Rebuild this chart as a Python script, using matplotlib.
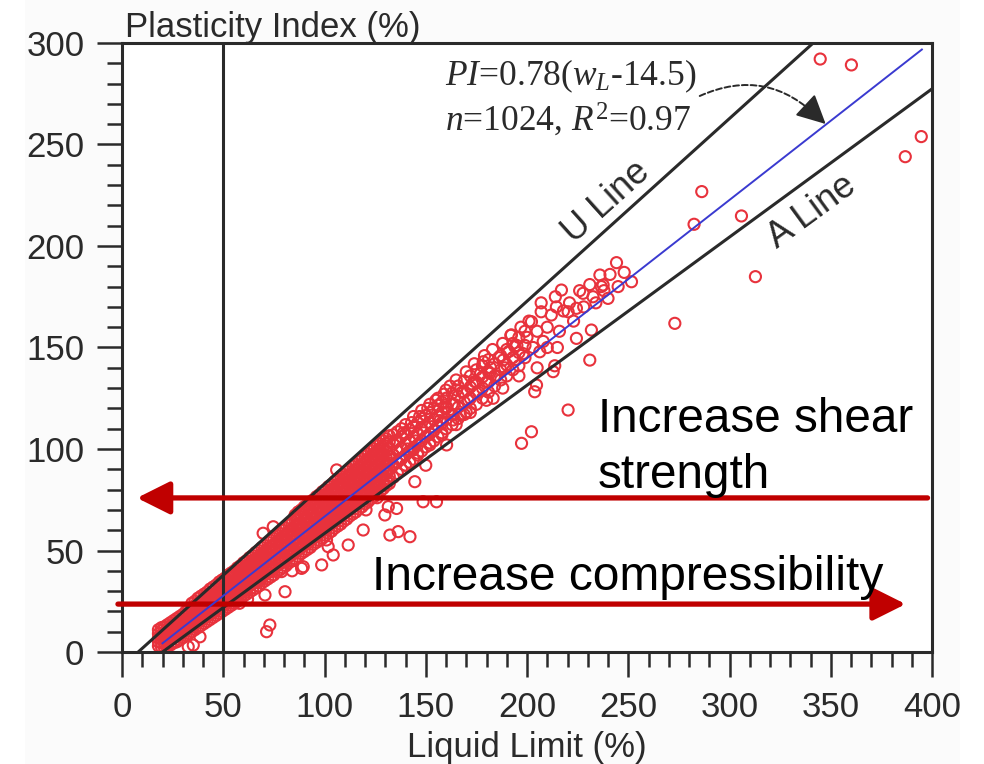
import numpy as np
import matplotlib
matplotlib.use("Agg")
import matplotlib.pyplot as plt
from matplotlib.patches import Rectangle

plt.rcParams['font.family'] = ['Liberation Sans', 'DejaVu Sans']
plt.rcParams['mathtext.fontset'] = 'custom'
plt.rcParams['mathtext.rm'] = 'Liberation Serif'
plt.rcParams['mathtext.it'] = 'Liberation Serif:italic'

# ---------------- data ----------------
x_ticks = [0, 50, 100, 150, 200, 250, 300, 350, 400]
y_ticks = [0, 50, 100, 150, 200, 250, 300]

# dense band: liquid limit column -> plasticity index readings
band_ll = [18, 19.5, 21, 22.5, 24, 25.5, 27, 28.5, 30, 31.5, 33, 34.5, 36, 37.5, 39, 40.5, 42, 43.5,
           45, 46.5, 48, 49.5, 51, 52.5, 54, 55.5, 57, 58.5, 60, 61.5, 63, 64.5, 66, 67.5, 69, 70.5,
           72, 73.5, 75, 76.5, 78, 79.5, 81, 82.5, 84, 85.5, 87, 88.5, 90, 91.5, 93, 94.5, 96, 97.5,
           99, 100.5, 102, 103.5, 105, 106.5, 108, 109.5, 111, 112.5, 114, 115.5, 117, 118.5, 120,
           121.5, 123, 124.5, 126, 127.5, 129, 130.5, 132, 134, 136, 138, 140, 142, 144, 146, 148,
           150, 152, 154, 156, 158, 160, 163, 166, 169, 172, 175, 178, 181, 184, 187, 190, 193, 196, 199]
band_pi = [
    [3, 5, 7, 9, 11], [2.5, 4.5, 6.5, 8.5, 10.5, 12], [2, 4, 6, 8, 10, 12.5],
    [3, 5, 7.5, 9.5, 11.5, 13.5], [3.5, 6, 8, 10.5, 12.5, 14.5], [4.5, 7, 9, 11.5, 13.5, 15.5],
    [5, 7.5, 10, 12, 14.5, 16.5], [6, 8.5, 11, 13, 15.5, 17.5], [7, 9.5, 12, 14, 16.5, 18.5],
    [8, 10.5, 13, 15, 17.5, 20], [9, 11.5, 14, 16, 18.5, 21], [10, 12.5, 15, 17.5, 19.5, 22, 24],
    [11, 13.5, 16, 18.5, 20.5, 23, 25], [12, 14.5, 17, 19.5, 22, 24, 26.5],
    [13, 15.5, 18, 20.5, 23, 25, 27.5], [14, 16.5, 19, 21.5, 24, 26.5, 28.5],
    [15, 17.5, 20, 22.5, 25, 27.5, 29.5], [16, 18.5, 21, 23.5, 26, 28.5, 31],
    [17, 19.5, 22, 24.5, 27, 29.5, 32], [18, 20.5, 23, 26, 28.5, 31, 33],
    [19, 21.5, 24, 27, 29.5, 32, 34.5], [20, 22.5, 25, 28, 30.5, 33, 35.5],
    [21, 23.5, 26.5, 29, 31.5, 34, 36.5], [22, 24.5, 27.5, 30, 32.5, 35, 38],
    [23, 26, 28.5, 31, 34, 36.5, 39], [24, 27, 29.5, 32.5, 35, 37.5, 40],
    [25, 28, 30.5, 33.5, 36, 39, 41.5], [26, 29, 32, 34.5, 37.5, 40, 42.5],
    [27.5, 30, 33, 36, 38.5, 41, 44], [28.5, 31, 34, 37, 39.5, 42.5, 45],
    [29.5, 32.5, 35, 38, 41, 43.5, 46.5], [30.5, 33.5, 36.5, 39, 42, 45, 47.5],
    [31.5, 34.5, 37.5, 40.5, 43, 46, 49], [32.5, 35.5, 38.5, 41.5, 44.5, 47, 50],
    [34, 36.5, 39.5, 42.5, 45.5, 48.5, 51.5], [35, 38, 41, 44, 46.5, 49.5, 52.5],
    [36, 39, 42, 45, 48, 51, 54], [37, 40, 43, 46, 49, 52, 55],
    [38, 41, 44, 47, 50, 53, 56], [39.5, 42.5, 45.5, 48.5, 51.5, 54.5, 57.5],
    [40.5, 43.5, 46.5, 49.5, 52.5, 55.5, 58.5], [41.5, 44.5, 47.5, 51, 54, 57, 60],
    [42.5, 45.5, 49, 52, 55, 58, 61], [44, 47, 50, 53, 56.5, 59.5, 62.5],
    [45, 48, 51, 54.5, 57.5, 60.5, 63.5], [46, 49, 52.5, 55.5, 58.5, 62, 65, 67.5],
    [47, 50.5, 53.5, 56.5, 60, 63, 66, 69], [48.5, 51.5, 54.5, 58, 61, 64, 67.5, 70],
    [49.5, 52.5, 56, 59, 62, 65.5, 68.5, 71.5], [50.5, 53.5, 57, 60, 63.5, 66.5, 70, 72.5],
    [51.5, 55, 58, 61.5, 64.5, 68, 71, 74], [53, 56, 59.5, 62.5, 66, 69, 72.5, 75],
    [54, 57, 60.5, 64, 67, 70.5, 73.5, 76.5], [55, 58.5, 61.5, 65, 68.5, 71.5, 75, 77.5],
    [56, 59.5, 63, 66, 69.5, 73, 76, 79], [57.5, 60.5, 64, 67.5, 71, 74, 77.5, 80],
    [58.5, 62, 65, 68.5, 72, 75.5, 78.5, 81.5], [59.5, 63, 66.5, 70, 73, 76.5, 80, 82.5],
    [61, 64, 67.5, 71, 74.5, 78, 81, 84], [62, 65.5, 69, 72, 75.5, 79, 82.5, 85],
    [63, 66.5, 70, 73.5, 77, 80.5, 83.5, 86.5], [64.5, 68, 71, 74.5, 78, 81.5, 85, 87.5],
    [65.5, 69, 72.5, 76, 79.5, 83, 86, 89], [67, 70, 73.5, 77, 80.5, 84, 87.5, 90],
    [68, 71.5, 75, 78.5, 82, 85, 88.5, 91.5], [69, 72.5, 76, 79.5, 83, 86.5, 90, 92.5],
    [70.5, 74, 77.5, 81, 84.5, 88, 91, 94], [71.5, 75, 78.5, 82, 85.5, 89, 92.5, 95],
    [73, 76.5, 80, 83, 86.5, 90, 93.5, 96.5], [74, 77.5, 81, 84.5, 88, 91.5, 95, 97.5],
    [75.5, 79, 82, 85.5, 89, 92.5, 96, 99], [76.5, 80, 83.5, 87, 90.5, 94, 97.5, 100],
    [78, 81.5, 85, 88, 91.5, 95, 98.5, 101.5], [79, 82.5, 86, 89.5, 93, 96.5, 100, 102.5],
    [80.5, 84, 87, 90.5, 94, 97.5, 101, 104], [82, 85, 88.5, 92, 95.5, 99, 102.5, 105],
    [83, 86.5, 90, 93, 96.5, 100, 103.5, 106.5],
    [86, 92, 97, 102.5, 107], [88, 93.5, 99, 104, 108.5], [90, 95, 100.5, 106, 110],
    [92, 97, 102.5, 107.5, 112], [93.5, 99, 104, 109.5], [95, 100.5, 106, 111, 116],
    [97, 102, 107.5, 113], [99, 104, 109.5, 115, 119], [101, 106, 111, 116.5],
    [102, 107.5, 113, 118, 122], [104, 109, 114.5, 120], [106, 111.5, 116, 121.5, 125],
    [108, 113, 118, 123], [110, 114.5, 120, 125, 129], [112, 117, 122, 127.5],
    [115, 120.5, 126, 131], [117, 123, 128, 133.5], [120, 125, 130.5, 136],
    [122, 127.5, 133, 139], [125, 130, 135.5, 141], [128, 133, 138, 144],
    [131, 136, 142], [134, 139, 146], [136, 141.5, 149], [139, 145, 152],
    [141, 147.5, 155], [145, 151, 158],
]

# looser cloud of readings above LL 130
cloud_ll = [133, 135, 137, 139, 141, 143, 145, 147, 149, 151, 153, 155, 157, 159, 161, 162, 164,
            165, 167, 168, 170, 171, 173, 174, 176, 177, 179, 180, 182, 183, 185, 186, 188, 189,
            191, 192, 194, 195, 197, 198, 200, 201, 203, 205, 207, 208, 210, 212, 214, 216, 218,
            221, 223, 226, 228, 231, 234, 238, 241, 245, 248,
            140, 146, 152, 158, 165, 172, 180, 188, 196, 205, 215]
cloud_pi = [96, 104, 95, 108, 100, 113, 104, 116, 108, 120, 111, 124, 114, 127, 118, 131, 122,
            134, 117, 128, 138, 124, 132, 142, 128, 137, 146, 133, 140, 149, 136, 145, 152, 140,
            148, 156, 144, 151, 160, 147, 155, 163, 150, 158, 172, 153, 160, 166, 175, 158, 168,
            172, 163, 178, 170, 181, 172, 178, 186, 180, 187,
            92, 98, 103, 107, 112, 118, 124, 130, 136, 140, 150]

# scattered samples away from the band
outlier_ll = [344.8, 360.2, 394.7, 386.8, 305.9, 312.8, 286.3, 282.5, 273.0, 244.2, 251.6,
              236.0, 240.0, 227.7, 217.0, 207.0, 202.2, 214.5, 220.3, 224.4, 232.6, 237.6,
              236.7, 231.8, 231.0, 220.3, 202.2, 197.3, 204.7, 212.9, 203.8, 224.4, 206.3,
              192.3, 194.0, 178.4, 188.2, 181.6, 174.2, 165.2, 160.3, 183.3, 163.5,
              142.2, 136.4, 132.3, 129.8, 135.6, 148.7, 155.3, 144.6, 119.1, 111.7, 104.3,
              98.6, 88.7, 80.5, 70.6, 73.0, 71.4, 101.8, 101.0, 131.5, 160.3, 143.8, 130.6,
              115.8, 106.0, 69.7, 74.7, 38.5, 35.2, 32.7, 89.5, 78.8, 213.7, 210.0, 170.0,
              62.0, 58.0, 84.0, 120.5, 126.0, 150.0]
outlier_pi = [292.1, 289.2, 253.9, 244.0, 214.8, 184.9, 226.8, 210.7, 161.9, 191.8, 182.4,
              185.7, 174.2, 176.7, 178.3, 167.6, 162.7, 170.0, 167.6, 169.3, 175.0, 180.8,
              180.0, 158.6, 143.8, 119.2, 108.5, 102.8, 131.5, 138.1, 128.2, 154.5, 147.9,
              156.2, 150.4, 143.0, 143.8, 137.3, 133.2, 129.1, 120.8, 125.0, 114.3,
              56.8, 59.3, 57.6, 67.5, 70.7, 74.0, 74.0, 83.9, 60.1, 52.7, 47.8,
              42.9, 41.2, 29.7, 28.1, 13.3, 10.0, 51.9, 55.2, 71.6, 102.0, 99.5, 89.7,
              89.7, 89.7, 58.5, 61.7, 7.5, 3.4, 2.6, 42.0, 39.6, 141.0, 150.0, 118.0,
              26.0, 24.0, 40.0, 70.0, 76.0, 92.0]

ll_all = list(outlier_ll) + list(cloud_ll)
pi_all = list(outlier_pi) + list(cloud_pi)
for ll, pis in zip(band_ll, band_pi):
    for p in pis:
        ll_all.append(ll)
        pi_all.append(p)

# reference lines (endpoints in liquid limit)
u_line_ll = [8, 341.3]
a_line_ll = [20, 400]
fit_ll = [20, 395]

# ---------------- figure ----------------
W, H = 984, 764
fig = plt.figure(figsize=(W / 100, H / 100), dpi=100)
fig.patch.set_facecolor('white')
fig.add_artist(Rectangle((25 / W, 0), (960 - 25) / W, 1, transform=fig.transFigure,
                         facecolor='#fbfbfb', edgecolor='none', zorder=-10))

ax = fig.add_axes([122 / W, 1 - 652 / H, (932 - 122) / W, (652 - 43) / H])
ax.set_facecolor('white')
ax.set_xlim(0, 400)
ax.set_ylim(0, 300)

dark = '#2a2a2a'
ax.scatter(ll_all, pi_all, s=64, facecolors='none', edgecolors='#e8323c',
           linewidths=1.5, zorder=2)

u_x = np.array(u_line_ll)
ax.plot(u_x, 0.9 * (u_x - 8), color=dark, lw=2.2, zorder=3)
a_x = np.array(a_line_ll)
ax.plot(a_x, 0.73 * (a_x - 20), color=dark, lw=2.2, zorder=3)
f_x = np.array(fit_ll)
ax.plot(f_x, 0.78 * (f_x - 14.5), color='#3a3ad0', lw=1.4, zorder=4)
ax.axvline(50, color=dark, lw=2.2, zorder=3)

for sp in ax.spines.values():
    sp.set_color(dark)
    sp.set_linewidth(2.2)

ax.set_xticks(x_ticks)
ax.set_yticks(y_ticks)
ax.set_xticks(np.arange(0, 401, 10), minor=True)
ax.set_yticks(np.arange(0, 301, 10), minor=True)
ax.tick_params(which='major', direction='out', length=18, width=1.8, color=dark,
               labelsize=25, labelcolor=dark)
ax.tick_params(which='minor', direction='out', length=10.5, width=1.8, color=dark)
ax.tick_params(axis='x', which='major', pad=10)
ax.tick_params(axis='y', which='major', pad=9)

fig.text(125 / W, 1 - 37 / H, 'Plasticity Index (%)', fontsize=25, color=dark,
         ha='left', va='baseline')
fig.text(527 / W, 1 - 757 / H, 'Liquid Limit (%)', fontsize=25, color=dark,
         ha='center', va='baseline')

ax.text(239.2, 221.8, 'U Line', fontsize=26, color=dark, rotation=42,
        rotation_mode='anchor', ha='center', va='center')
ax.text(340.6, 216.7, 'A Line', fontsize=26, color=dark, rotation=36.2,
        rotation_mode='anchor', ha='center', va='center')

ax.text(159.4, 279.3, r'$\mathit{PI}$=0.78($\mathit{w_L}$-14.5)', fontsize=25.5, color=dark,
        family='Liberation Serif', ha='left', va='baseline')
ax.text(159.4, 257.1, r'$\mathit{n}$=1024, $\mathit{R}^2$=0.97', fontsize=25.5, color=dark,
        family='Liberation Serif', ha='left', va='baseline')

ax.annotate('', xy=(344.5, 262.5), xytext=(285.3, 273.9),
            arrowprops=dict(arrowstyle='-', color=dark, lw=1.4, ls=(0, (3, 1.5)),
                            connectionstyle='arc3,rad=-0.35', shrinkA=0, shrinkB=0))
ax.annotate('', xy=(347.5, 260.1), xytext=(340.6, 266.5),
            arrowprops=dict(arrowstyle='-|>,head_length=0.9,head_width=0.45', color=dark,
                            lw=1.4, mutation_scale=20, shrinkA=0, shrinkB=0))

red = '#c00000'
ax.annotate('', xy=(7.4, 75.9), xytext=(397.8, 75.9), annotation_clip=False,
            arrowprops=dict(arrowstyle='-|>,head_length=1.0,head_width=0.5', color=red,
                            lw=3.8, mutation_scale=20, shrinkA=0, shrinkB=0))
ax.annotate('', xy=(387, 23.6), xytext=(-2.0, 23.6), annotation_clip=False,
            arrowprops=dict(arrowstyle='-|>,head_length=1.0,head_width=0.5', color=red,
                            lw=3.8, mutation_scale=20, shrinkA=0, shrinkB=0))

ax.text(235, 108.4, 'Increase shear', fontsize=34.3, color='black', ha='left', va='baseline')
ax.text(235, 80.8, 'strength', fontsize=34.3, color='black', ha='left', va='baseline')
ax.text(123.4, 30.5, 'Increase compressibility', fontsize=34.5, color='black',
        ha='left', va='baseline')

fig.savefig('out.png', dpi=100, facecolor=fig.get_facecolor())
